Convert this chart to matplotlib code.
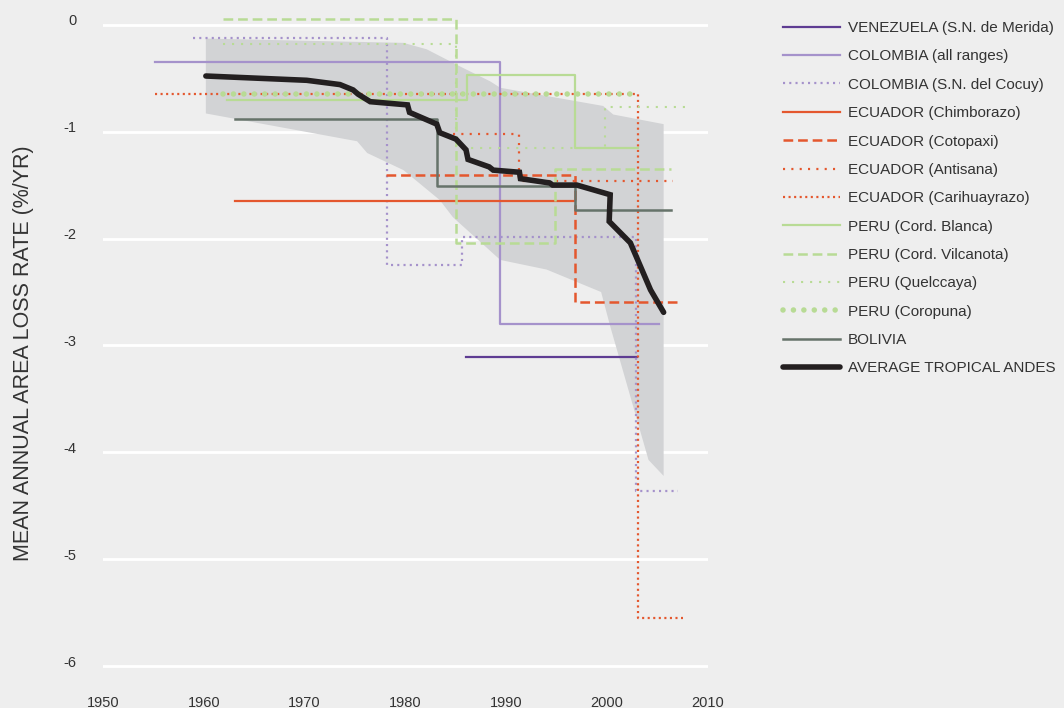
import numpy as np
import matplotlib
matplotlib.use("Agg")
import matplotlib.pyplot as plt
from matplotlib.transforms import ScaledTranslation

plt.rcParams['font.family'] = ['Liberation Sans', 'DejaVu Sans']
plt.rcParams['lines.scale_dashes'] = False
plt.rcParams['axes.unicode_minus'] = False

# ---- data (year edges of each step, rate per step) ----
venezuela_x = [1986.0, 2003.0]
venezuela_y = [-3.11]

colombia_x = [1955.2, 1989.4, 2005.1]
colombia_y = [-0.35, -2.80]

cocuy_x = [1958.9, 1978.2, 1985.6, 2002.9, 2007.0]
cocuy_y = [-0.12, -2.25, -1.99, -4.36]

chimborazo_x = [1963.1, 1996.8]
chimborazo_y = [-1.65]

cotopaxi_x = [1978.1, 1996.8, 2006.9]
cotopaxi_y = [-1.41, -2.59]

antisana_x = [1984.7, 1991.3, 2006.5]
antisana_y = [-1.02, -1.46]

carihuayrazo_x = [1955.2, 2003.1, 2007.5]
carihuayrazo_y = [-0.65, -5.55]

blanca_x = [1962.3, 1986.1, 1996.8, 2003.1]
blanca_y = [-0.70, -0.47, -1.15]

vilcanota_x = [1961.9, 1985.0, 1994.8, 2006.3]
vilcanota_y = [0.05, -2.04, -1.35]

quelccaya_x = [1961.9, 1985.0, 1999.8, 2008.2]
quelccaya_y = [-0.18, -1.15, -0.77]

coropuna_x = [1961.9, 2002.6]
coropuna_y = [-0.65]

bolivia_x = [1963.1, 1983.1, 1996.8, 2006.3]
bolivia_y = [-0.88, -1.51, -1.73]

avg_years = [1960.2, 1965.2, 1970.2, 1973.5, 1974.8, 1975.3, 1976.5, 1980.2, 1980.4,
             1983.1, 1983.4, 1985.0, 1986.0, 1986.2, 1988.3, 1988.7, 1991.3, 1991.4,
             1994.3, 1994.6, 1997.0, 2000.3, 2000.2, 2002.3, 2004.3, 2005.6]
avg_rate = [-0.48, -0.50, -0.52, -0.56, -0.61, -0.65, -0.72, -0.75, -0.82,
            -0.93, -1.01, -1.07, -1.17, -1.26, -1.33, -1.36, -1.38, -1.44,
            -1.48, -1.50, -1.50, -1.59, -1.84, -2.04, -2.48, -2.69]

band_up_x = [1960.2, 1979.8, 1982.1, 1985.4, 1988.4, 1989.4, 1999.6, 2000.6, 2005.6]
band_up_y = [-0.13, -0.17, -0.23, -0.39, -0.53, -0.59, -0.76, -0.84, -0.93]
band_lo_x = [1960.2, 1975.2, 1976.2, 1979.8, 1983.4, 1984.7, 1989.4, 1994.0, 1999.4,
             2000.3, 2004.1, 2005.6]
band_lo_y = [-0.83, -1.09, -1.20, -1.36, -1.64, -1.80, -2.20, -2.29, -2.50,
             -2.82, -4.07, -4.22]

# ---- colours ----
bg = '#eeeeee'
dark_purple = '#5e3c92'
light_purple = '#a592cb'
orange = '#e4572e'
green = '#b8db95'
bolivia_col = '#66736a'
black = '#231f20'

fig = plt.figure(figsize=(10.64, 7.08), dpi=100, facecolor=bg)
ax = fig.add_axes([103 / 1064, 1 - 693 / 708, (708 - 103) / 1064, (693 - 14) / 708])
ax.set_facecolor(bg)

ax.fill(band_up_x + band_lo_x[::-1], band_up_y + band_lo_y[::-1],
        color='#d2d3d5', lw=0, zorder=1)


def steps(xs, ys, **kw):
    return ax.step(xs, ys + [ys[-1]], where='post', zorder=3, **kw)[0]


handles = []
handles.append(steps(venezuela_x, venezuela_y, color=dark_purple, lw=1.6,
                     label='VENEZUELA (S.N. de Merida)'))
handles.append(steps(colombia_x, colombia_y, color=light_purple, lw=1.6,
                     label='COLOMBIA (all ranges)'))
handles.append(steps(cocuy_x, cocuy_y, color=light_purple, lw=1.6, ls=(0, (1.5, 3)),
                     label='COLOMBIA (S.N. del Cocuy)'))
handles.append(steps(chimborazo_x, chimborazo_y, color=orange, lw=1.6,
                     label='ECUADOR (Chimborazo)'))
handles.append(steps(cotopaxi_x, cotopaxi_y, color=orange, lw=1.8, ls=(0, (7, 3.5)),
                     label='ECUADOR (Cotopaxi)'))
handles.append(steps(antisana_x, antisana_y, color=orange, lw=1.6, ls=(0, (1.5, 4.5)),
                     label='ECUADOR (Antisana)'))
handles.append(steps(carihuayrazo_x, carihuayrazo_y, color=orange, lw=1.6, ls=(0, (1.5, 2.5)),
                     label='ECUADOR (Carihuayrazo)'))
handles.append(steps(blanca_x, blanca_y, color=green, lw=1.6,
                     label='PERU (Cord. Blanca)'))
handles.append(steps(vilcanota_x, vilcanota_y, color=green, lw=1.8, ls=(0, (7, 3.5)),
                     label='PERU (Cord. Vilcanota)'))
handles.append(steps(quelccaya_x, quelccaya_y, color=green, lw=1.5, ls=(0, (1.5, 5.0)),
                     label='PERU (Quelccaya)'))
coro = steps(coropuna_x, coropuna_y, color=green, lw=4, ls=(0, (0.01, 7.5)),
             dash_capstyle='round', label='PERU (Coropuna)')
handles.append(coro)
handles.append(steps(bolivia_x, bolivia_y, color=bolivia_col, lw=1.8,
                     label='BOLIVIA'))
avg, = ax.plot(avg_years, avg_rate, color=black, lw=4, solid_capstyle='round',
               solid_joinstyle='miter', zorder=5, label='AVERAGE TROPICAL ANDES')
handles.append(avg)

ax.set_xlim(1950, 2010)
ax.set_ylim(-6.25, 0.1)
ax.set_xticks(range(1950, 2011, 10))
ax.set_yticks(range(-6, 1))
ax.grid(axis='y', color='white', lw=2)
ax.set_axisbelow(True)
for s in ax.spines.values():
    s.set_visible(False)
ax.tick_params(length=0, labelsize=10.5, labelcolor='#333333')
ax.tick_params(axis='y', pad=19)
ax.tick_params(axis='x', pad=2)
for lab in ax.get_yticklabels():
    lab.set_transform(lab.get_transform() + ScaledTranslation(0, 5 / 100, fig.dpi_scale_trans))

ax.set_ylabel('MEAN ANNUAL AREA LOSS RATE (%/YR)', fontsize=15.5, color='#333333', labelpad=21)

leg = fig.legend(handles=handles, loc='upper left', bbox_to_anchor=(777 / 1064, 1 - 15 / 708),
                 frameon=False, fontsize=11, handlelength=3.7, handletextpad=0.55,
                 labelspacing=0.94, borderaxespad=0)
for t in leg.get_texts():
    t.set_color('#333333')

fig.savefig('out.png', dpi=100, facecolor=bg)
